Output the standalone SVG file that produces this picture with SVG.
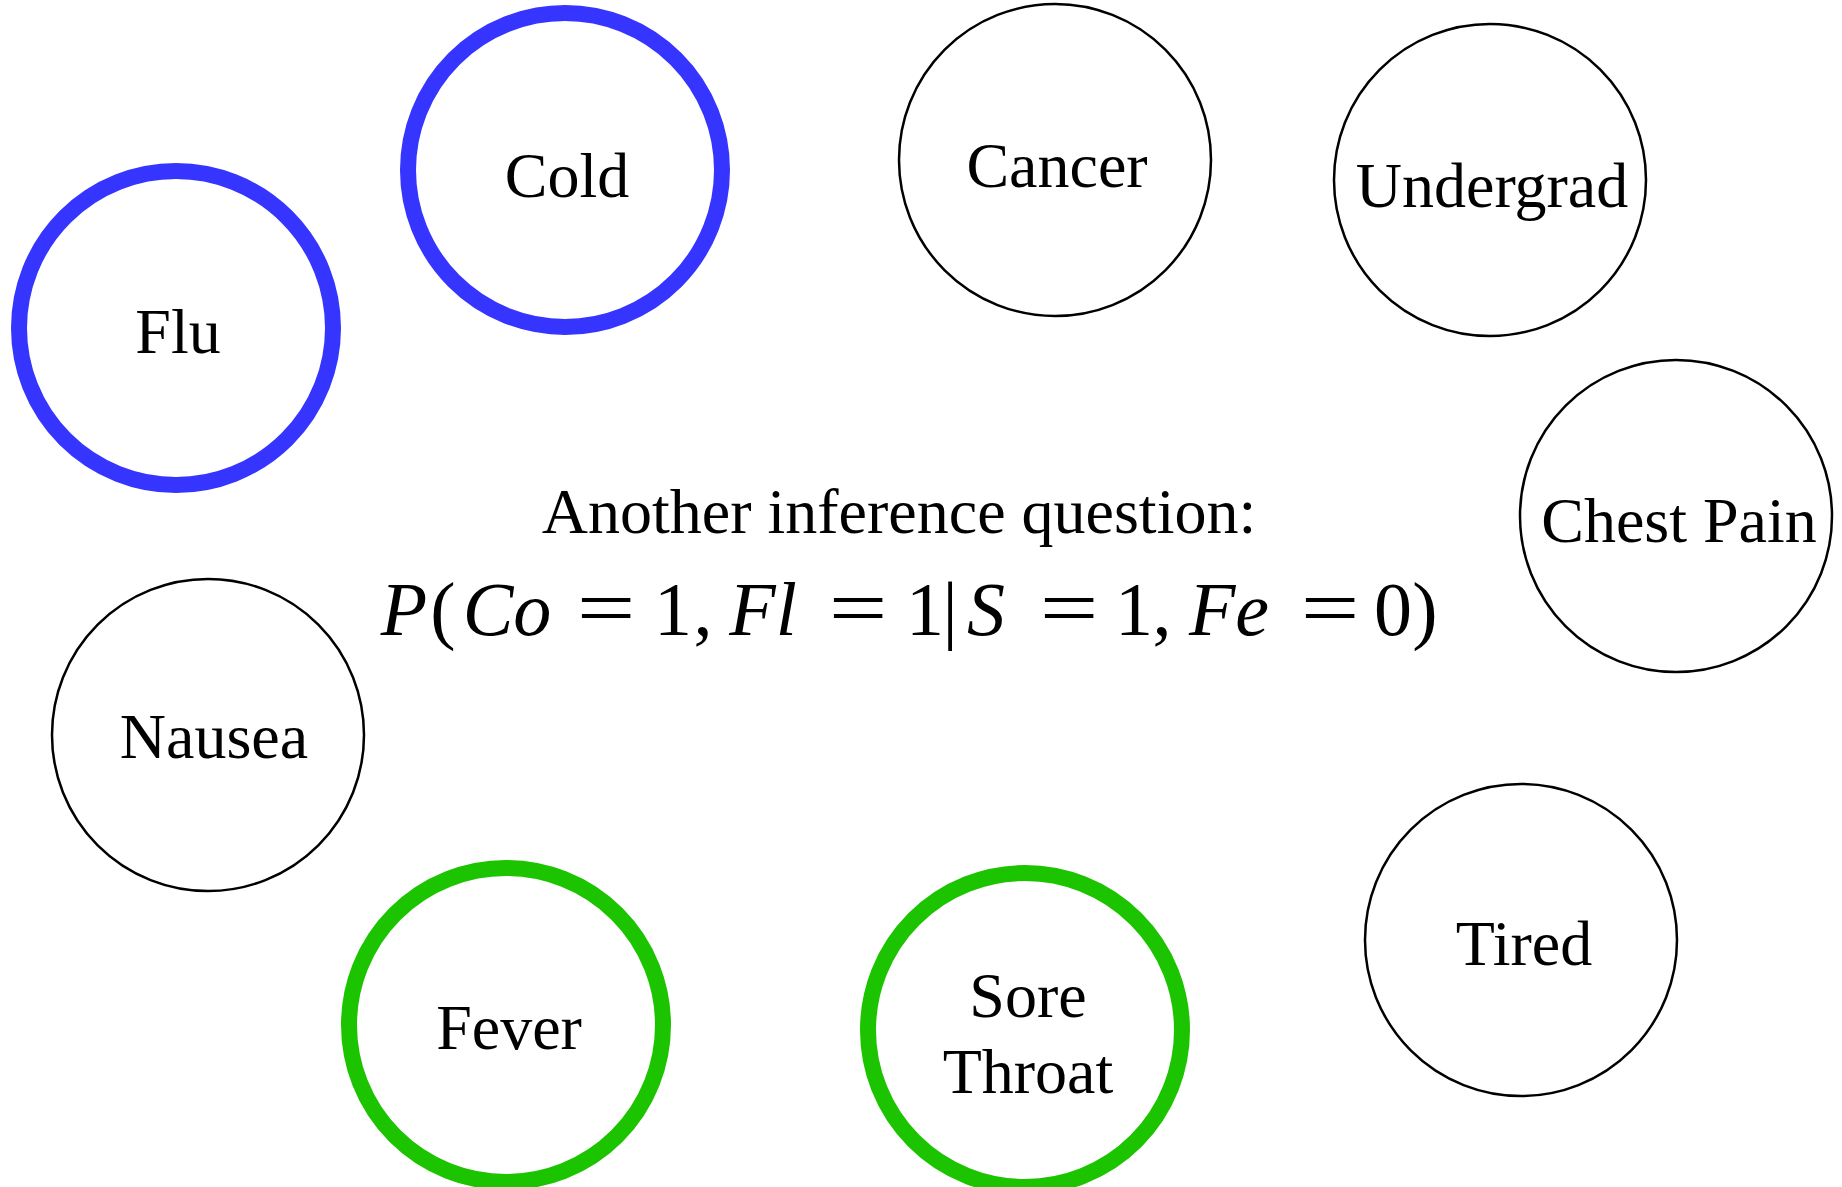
<svg xmlns="http://www.w3.org/2000/svg" width="1842" height="1187" viewBox="0 0 1842 1187">
<style>
  .node { fill: #ffffff; stroke: #000000; stroke-width: 2.5; }
  .blue { fill: #ffffff; stroke: #3535ff; stroke-width: 16; }
  .green { fill: #ffffff; stroke: #1cc400; stroke-width: 16; }
  .lbl { font-family: "Liberation Serif", "Times New Roman", serif; font-size: 64px; fill: #000000; text-anchor: middle; }
  .math { font-family: "Liberation Serif", "Times New Roman", serif; font-size: 76px; fill: #000000; text-anchor: middle; }
  .it { font-style: italic; }
</style>
<rect x="0" y="0" width="1842" height="1187" fill="#ffffff"/>
<g id="connectors"></g>
<g id="node-flu">
  <circle class="blue" cx="176" cy="328" r="157"/>
  <text class="lbl" x="178" y="353">Flu</text>
</g>
<g id="node-cold">
  <circle class="blue" cx="565" cy="170" r="157"/>
  <text class="lbl" x="567" y="197">Cold</text>
</g>
<g id="node-cancer">
  <circle class="node" cx="1055" cy="160" r="156"/>
  <text class="lbl" x="1057" y="187">Cancer</text>
</g>
<g id="node-undergrad">
  <circle class="node" cx="1490" cy="180" r="156"/>
  <text class="lbl" x="1492" y="207">Undergrad</text>
</g>
<g id="node-chestpain">
  <circle class="node" cx="1676" cy="516" r="156"/>
  <text class="lbl" x="1679" y="542">Chest Pain</text>
</g>
<g id="node-nausea">
  <circle class="node" cx="208" cy="735" r="156"/>
  <text class="lbl" x="214" y="758">Nausea</text>
</g>
<g id="node-fever">
  <circle class="green" cx="506" cy="1025" r="157"/>
  <text class="lbl" x="509" y="1049">Fever</text>
</g>
<g id="node-sorethroat">
  <circle class="green" cx="1025" cy="1030" r="157"/>
  <text class="lbl" x="1028" y="1017">Sore</text>
  <text class="lbl" x="1028" y="1093">Throat</text>
</g>
<g id="node-tired">
  <circle class="node" cx="1521" cy="940" r="156"/>
  <text class="lbl" x="1524" y="965">Tired</text>
</g>
<g id="question">
  <text class="lbl" x="899" y="533">Another inference question:</text>
  <text class="math it" x="404" y="635">P</text>
  <text class="math" x="443" y="635">(</text>
  <text class="math it" x="507" y="635">Co</text>
  <text class="math" transform="translate(606,635) scale(1.37,1.05)" x="0" y="0">=</text>
  <text class="math" x="673" y="635">1</text>
  <text class="math" x="703" y="635">,</text>
  <text class="math it" x="763" y="635">Fl</text>
  <text class="math" transform="translate(858,635) scale(1.37,1.05)" x="0" y="0">=</text>
  <text class="math" x="925" y="635">1</text>
  <text class="math" x="950" y="635">|</text>
  <text class="math it" x="986" y="635">S</text>
  <text class="math" transform="translate(1069,635) scale(1.37,1.05)" x="0" y="0">=</text>
  <text class="math" x="1134" y="635">1</text>
  <text class="math" x="1162" y="635">,</text>
  <text class="math it" x="1229" y="635">Fe</text>
  <text class="math" transform="translate(1330,635) scale(1.37,1.05)" x="0" y="0">=</text>
  <text class="math" x="1393" y="635">0</text>
  <text class="math" x="1425" y="635">)</text>
</g>
</svg>
